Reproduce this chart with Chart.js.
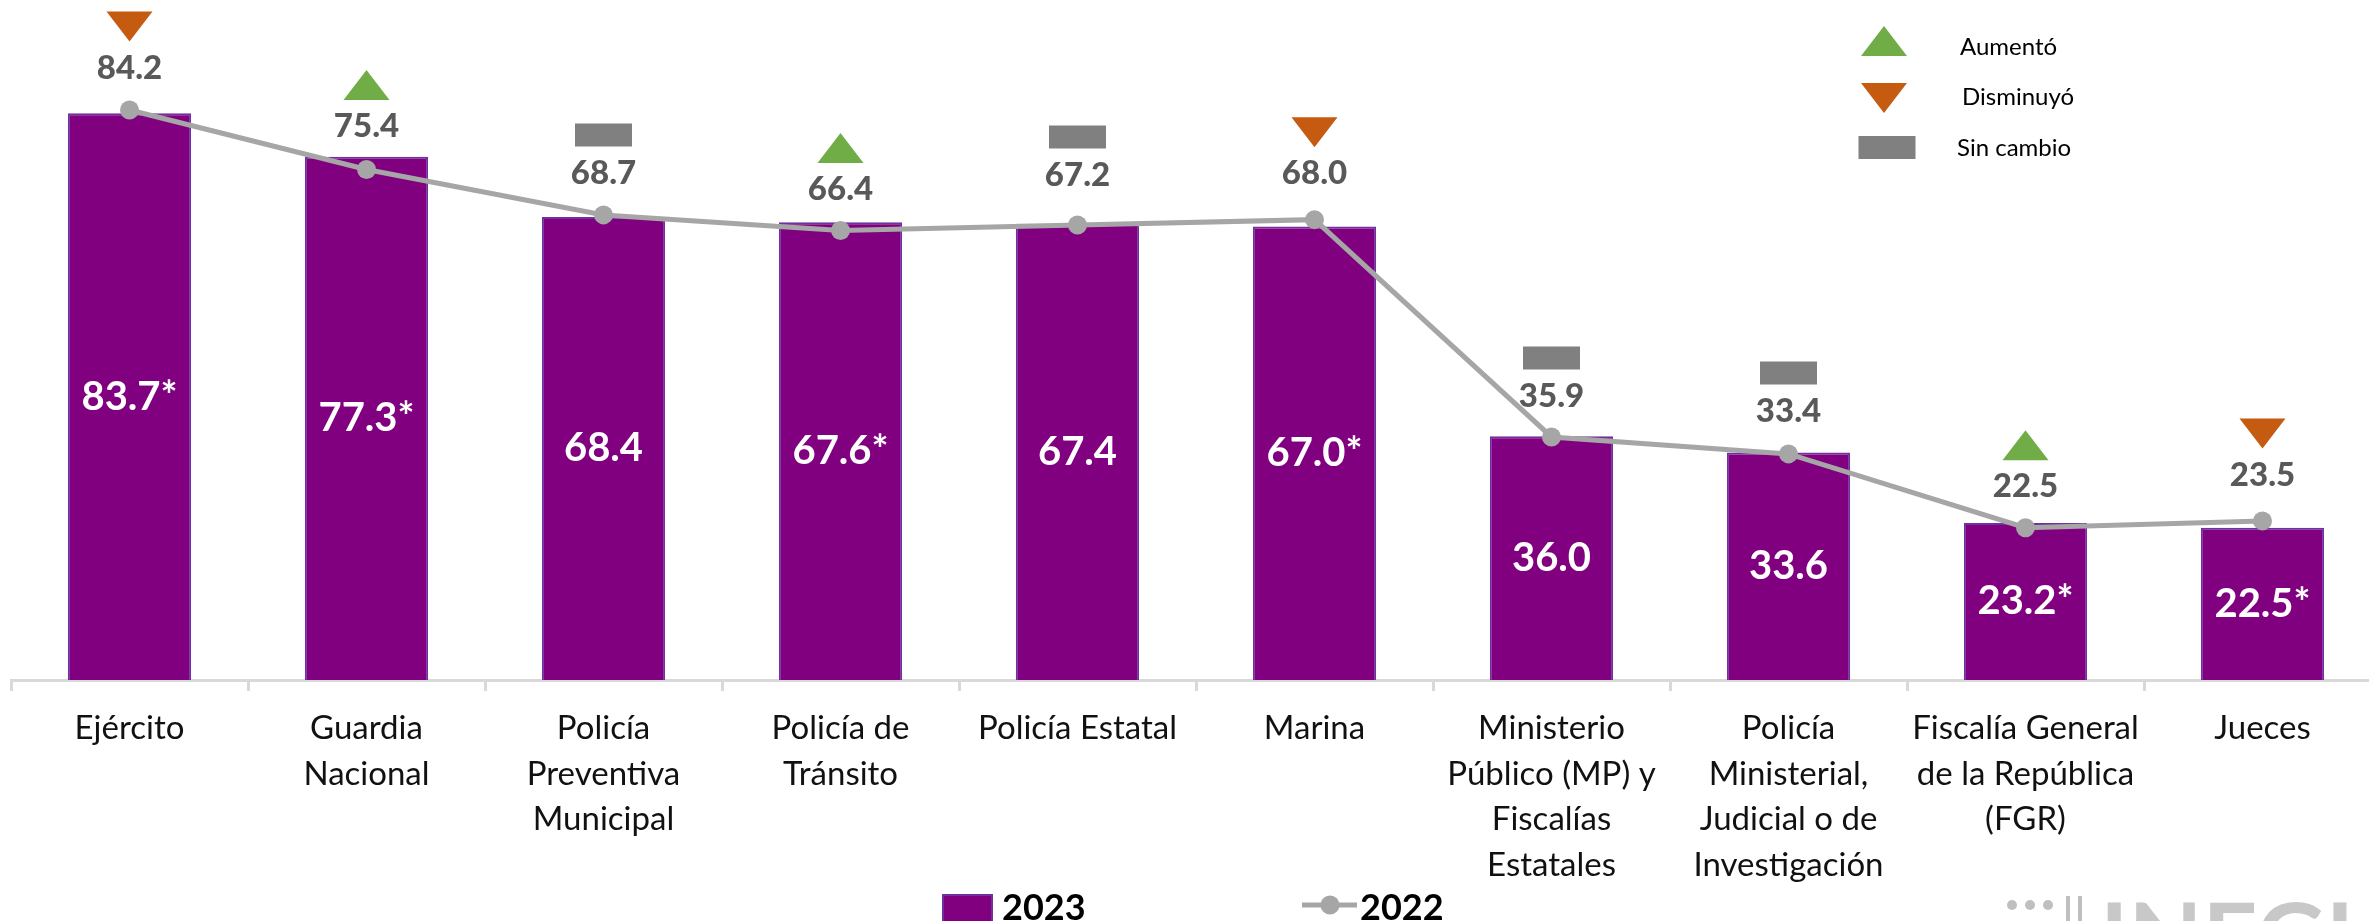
<!DOCTYPE html>
<html>
<head>
<meta charset="utf-8">
<script src="https://cdn.jsdelivr.net/npm/chart.js@4.4.1/dist/chart.umd.min.js"></script>
<style>
  html, body { margin: 0; padding: 0; background: #fff; overflow: hidden; }
  #wrap { position: relative; width: 2400px; height: 921px; }
</style>
</head>
<body>
<div id="wrap"><canvas id="chart" width="2400" height="921"></canvas></div>
<script>
// categories and values
const categories = [
  "Ejército",
  ["Guardia", "Nacional"],
  ["Policía", "Preventiva", "Municipal"],
  ["Policía de", "Tránsito"],
  "Policía Estatal",
  "Marina",
  ["Ministerio", "Público (MP) y", "Fiscalías", "Estatales"],
  ["Policía", "Ministerial,", "Judicial o de", "Investigación"],
  ["Fiscalía General", "de la República", "(FGR)"],
  "Jueces"
];
const values2023 = [83.7, 77.3, 68.4, 67.6, 67.4, 67.0, 36.0, 33.6, 23.2, 22.5];
const significant = [true, true, false, true, false, true, false, false, true, true];
const values2022 = [84.2, 75.4, 68.7, 66.4, 67.2, 68.0, 35.9, 33.4, 22.5, 23.5];
const change = ["down", "up", "same", "up", "same", "down", "same", "same", "up", "down"];

const PURPLE = "#800080";
const GREY_LINE = "#A6A6A6";
const MARK = { up: "#70AD47", down: "#C55A11", same: "#808080" };

// how far above each 2022 point its label sits (px)
const labelLift = [42, 43, 42, 41, 50, 46, 41, 43, 41, 46];

function drawMarker(c, kind, x, bottom) {
  c.fillStyle = MARK[kind];
  c.beginPath();
  if (kind === "up") {
    c.moveTo(x - 23, bottom); c.lineTo(x + 23, bottom); c.lineTo(x, bottom - 30);
  } else if (kind === "down") {
    c.moveTo(x - 23, bottom - 30); c.lineTo(x + 23, bottom - 30); c.lineTo(x, bottom);
  } else {
    c.rect(x - 28.5, bottom - 23, 57, 23);
  }
  c.closePath();
  c.fill();
}

const valueLabels = {
  id: "valueLabels",
  afterDatasetsDraw(chart) {
    const c = chart.ctx;
    const lineMeta = chart.getDatasetMeta(0);
    const barMeta = chart.getDatasetMeta(1);
    c.save();
    c.textAlign = "center";
    c.textBaseline = "middle";
    c.fillStyle = "#fff";
    c.font = "bold 40px Lato";
    barMeta.data.forEach((bar, i) => {
      const txt = values2023[i].toFixed(1) + (significant[i] ? "*" : "");
      c.fillText(txt, bar.x, (bar.y + bar.base) / 2);
    });
    lineMeta.data.forEach((pt, i) => {
      const ly = pt.y - labelLift[i];
      c.fillStyle = "#595959";
      c.font = "900 33px Lato";
      c.fillText(values2022[i].toFixed(1), pt.x, ly);
      drawMarker(c, change[i], pt.x, ly - 26.5);
    });
    c.restore();
  }
};

// key (top right), year legend (bottom) and the clipped logo
const decorations = {
  id: "decorations",
  afterDraw(chart) {
    const c = chart.ctx;
    c.save();
    drawMarker(c, "up", 1884, 56);
    drawMarker(c, "down", 1884, 113);
    drawMarker(c, "same", 1887, 159);
    c.fillStyle = "#000";
    c.font = "24px Lato";
    c.textBaseline = "middle";
    c.textAlign = "left";
    c.fillText("Aumentó", 1960, 47);
    c.fillText("Disminuyó", 1962, 97);
    c.fillText("Sin cambio", 1957, 148);

    // bottom legend
    c.fillStyle = PURPLE;
    c.fillRect(942, 894, 51, 27);
    c.strokeStyle = "#7030A0";
    c.lineWidth = 2;
    c.strokeRect(943, 895, 49, 27);
    c.fillStyle = "#000";
    c.font = "bold 36px Lato";
    c.textBaseline = "alphabetic";
    c.fillText("2023", 1002, 920);
    c.strokeStyle = GREY_LINE;
    c.lineWidth = 5;
    c.beginPath(); c.moveTo(1302, 905); c.lineTo(1357, 905); c.stroke();
    c.fillStyle = GREY_LINE;
    c.beginPath(); c.arc(1330, 905, 9.5, 0, Math.PI * 2); c.fill();
    c.fillStyle = "#000";
    c.fillText("2022", 1360, 920);

    // logo, cut by the bottom edge as in the source
    c.fillStyle = "#C8C8C8";
    c.font = "bold 96px Lato";
    c.fillText("INEGI", 2100, 972);
    c.fillStyle = "#BFBFBF";
    [2012, 2030, 2048].forEach(x => { c.beginPath(); c.arc(x, 905, 5, 0, Math.PI * 2); c.fill(); });
    [2066, 2078].forEach(x => c.fillRect(x, 896, 4, 25));
    c.restore();
  }
};

new Chart(document.getElementById("chart"), {
  type: "bar",
  data: {
    labels: categories,
    datasets: [
      {
        type: "line", label: "2022", data: values2022,
        borderColor: GREY_LINE, backgroundColor: GREY_LINE, borderWidth: 5,
        pointRadius: 9.5, pointBorderWidth: 0, pointBackgroundColor: GREY_LINE,
        tension: 0, order: 0
      },
      {
        type: "bar", label: "2023", data: values2023,
        backgroundColor: PURPLE, borderColor: "#7030A0",
        borderWidth: { left: 2, right: 2, top: 2, bottom: 0 },
        barPercentage: 0.52, categoryPercentage: 1, order: 1
      }
    ]
  },
  options: {
    responsive: false,
    animation: false,
    layout: { autoPadding: false, padding: { left: 11, right: 19, top: 3, bottom: 0 } },
    plugins: { legend: { display: false }, tooltip: { enabled: false } },
    scales: {
      x: {
        offset: true,
        grid: { offset: true, drawOnChartArea: false, color: "#D9D9D9", lineWidth: 3, tickLength: 11 },
        border: { color: "#D9D9D9", width: 3 },
        ticks: {
          color: "#111", padding: 15, maxRotation: 0, autoSkip: false,
          font: { family: "Lato", size: 33, lineHeight: 1.38 }
        },
        afterFit(scale) { scale.height = 241; }
      },
      y: { display: false, min: 0, max: 100 }
    }
  },
  plugins: [valueLabels, decorations]
});
</script>
</body>
</html>
